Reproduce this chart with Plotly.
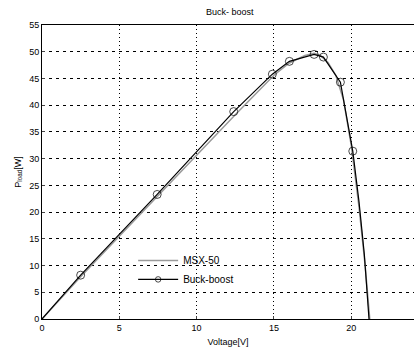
import plotly.graph_objects as go

# MSX-50 model curve
msx_v = [0, 2.5, 5, 7.5, 10, 12.5, 15, 16, 17, 17.6, 18, 18.5, 19, 19.5, 20, 20.5, 20.9, 21.2]
msx_p = [0, 7.9, 15.5, 23.1, 30.6, 38.2, 45.6, 47.9, 49.3, 49.7, 49.3, 48.0, 45.6, 41.0, 32.5, 21.0, 10.0, 0]

# Buck-boost measured points
bb_v = [0, 2.5, 7.45, 12.4, 14.9, 16.0, 17.6, 18.2, 19.3, 20.1, 20.5, 20.85, 21.15]
bb_p = [0, 8.2, 23.3, 38.8, 45.8, 48.2, 49.5, 49.0, 44.3, 31.4, 22.0, 12.0, 0]
bb_marker = [0, 1, 1, 1, 1, 1, 1, 1, 1, 1, 0, 0, 0]

x_ticks = [0, 5, 10, 15, 20]
y_ticks = [0, 5, 10, 15, 20, 25, 30, 35, 40, 45, 50, 55]

fig = go.Figure()
fig.add_trace(go.Scatter(x=msx_v, y=msx_p, mode="lines", name="MSX-50",
                         line=dict(color="#9a9a9a", width=1.5)))
fig.add_trace(go.Scatter(x=bb_v, y=bb_p, mode="lines+markers", name="Buck-boost",
                         line=dict(color="black", width=1.2),
                         marker=dict(symbol="circle-open", color="black",
                                     size=[8 * m for m in bb_marker],
                                     line=dict(width=1, color="black"))))

font = "Liberation Sans, Arial, sans-serif"
fig.update_layout(
    width=414, height=351,
    margin=dict(l=42, r=0, t=25, b=32),
    paper_bgcolor="white", plot_bgcolor="white",
    font=dict(family=font, size=9, color="black"),
    title=dict(text="Buck- boost", x=0.555, xanchor="center", y=0.965, yanchor="middle",
               font=dict(size=9, family=font)),
    showlegend=True,
    legend=dict(x=0.245, y=0.167, xanchor="left", yanchor="middle",
                bgcolor="rgba(0,0,0,0)", font=dict(size=10, family=font),
                tracegroupgap=0, itemwidth=40),
)
fig.update_xaxes(range=[0, 24.06], tickvals=x_ticks, ticks="inside", ticklen=3,
                 showline=True, linecolor="black", linewidth=1, mirror=True,
                 showgrid=True, gridcolor="black", gridwidth=1, griddash="1px,3px",
                 zeroline=False,
                 title=dict(text="Voltage[V]", font=dict(size=9), standoff=6))
fig.update_yaxes(range=[0, 55], tickvals=y_ticks, ticks="inside", ticklen=3,
                 showline=True, linecolor="black", linewidth=1, mirror=True,
                 showgrid=True, gridcolor="black", gridwidth=1, griddash="3px,4px",
                 zeroline=False,
                 title=dict(text="P<sub>load</sub>[W]", font=dict(size=9), standoff=6))

fig.write_html("out.html")
